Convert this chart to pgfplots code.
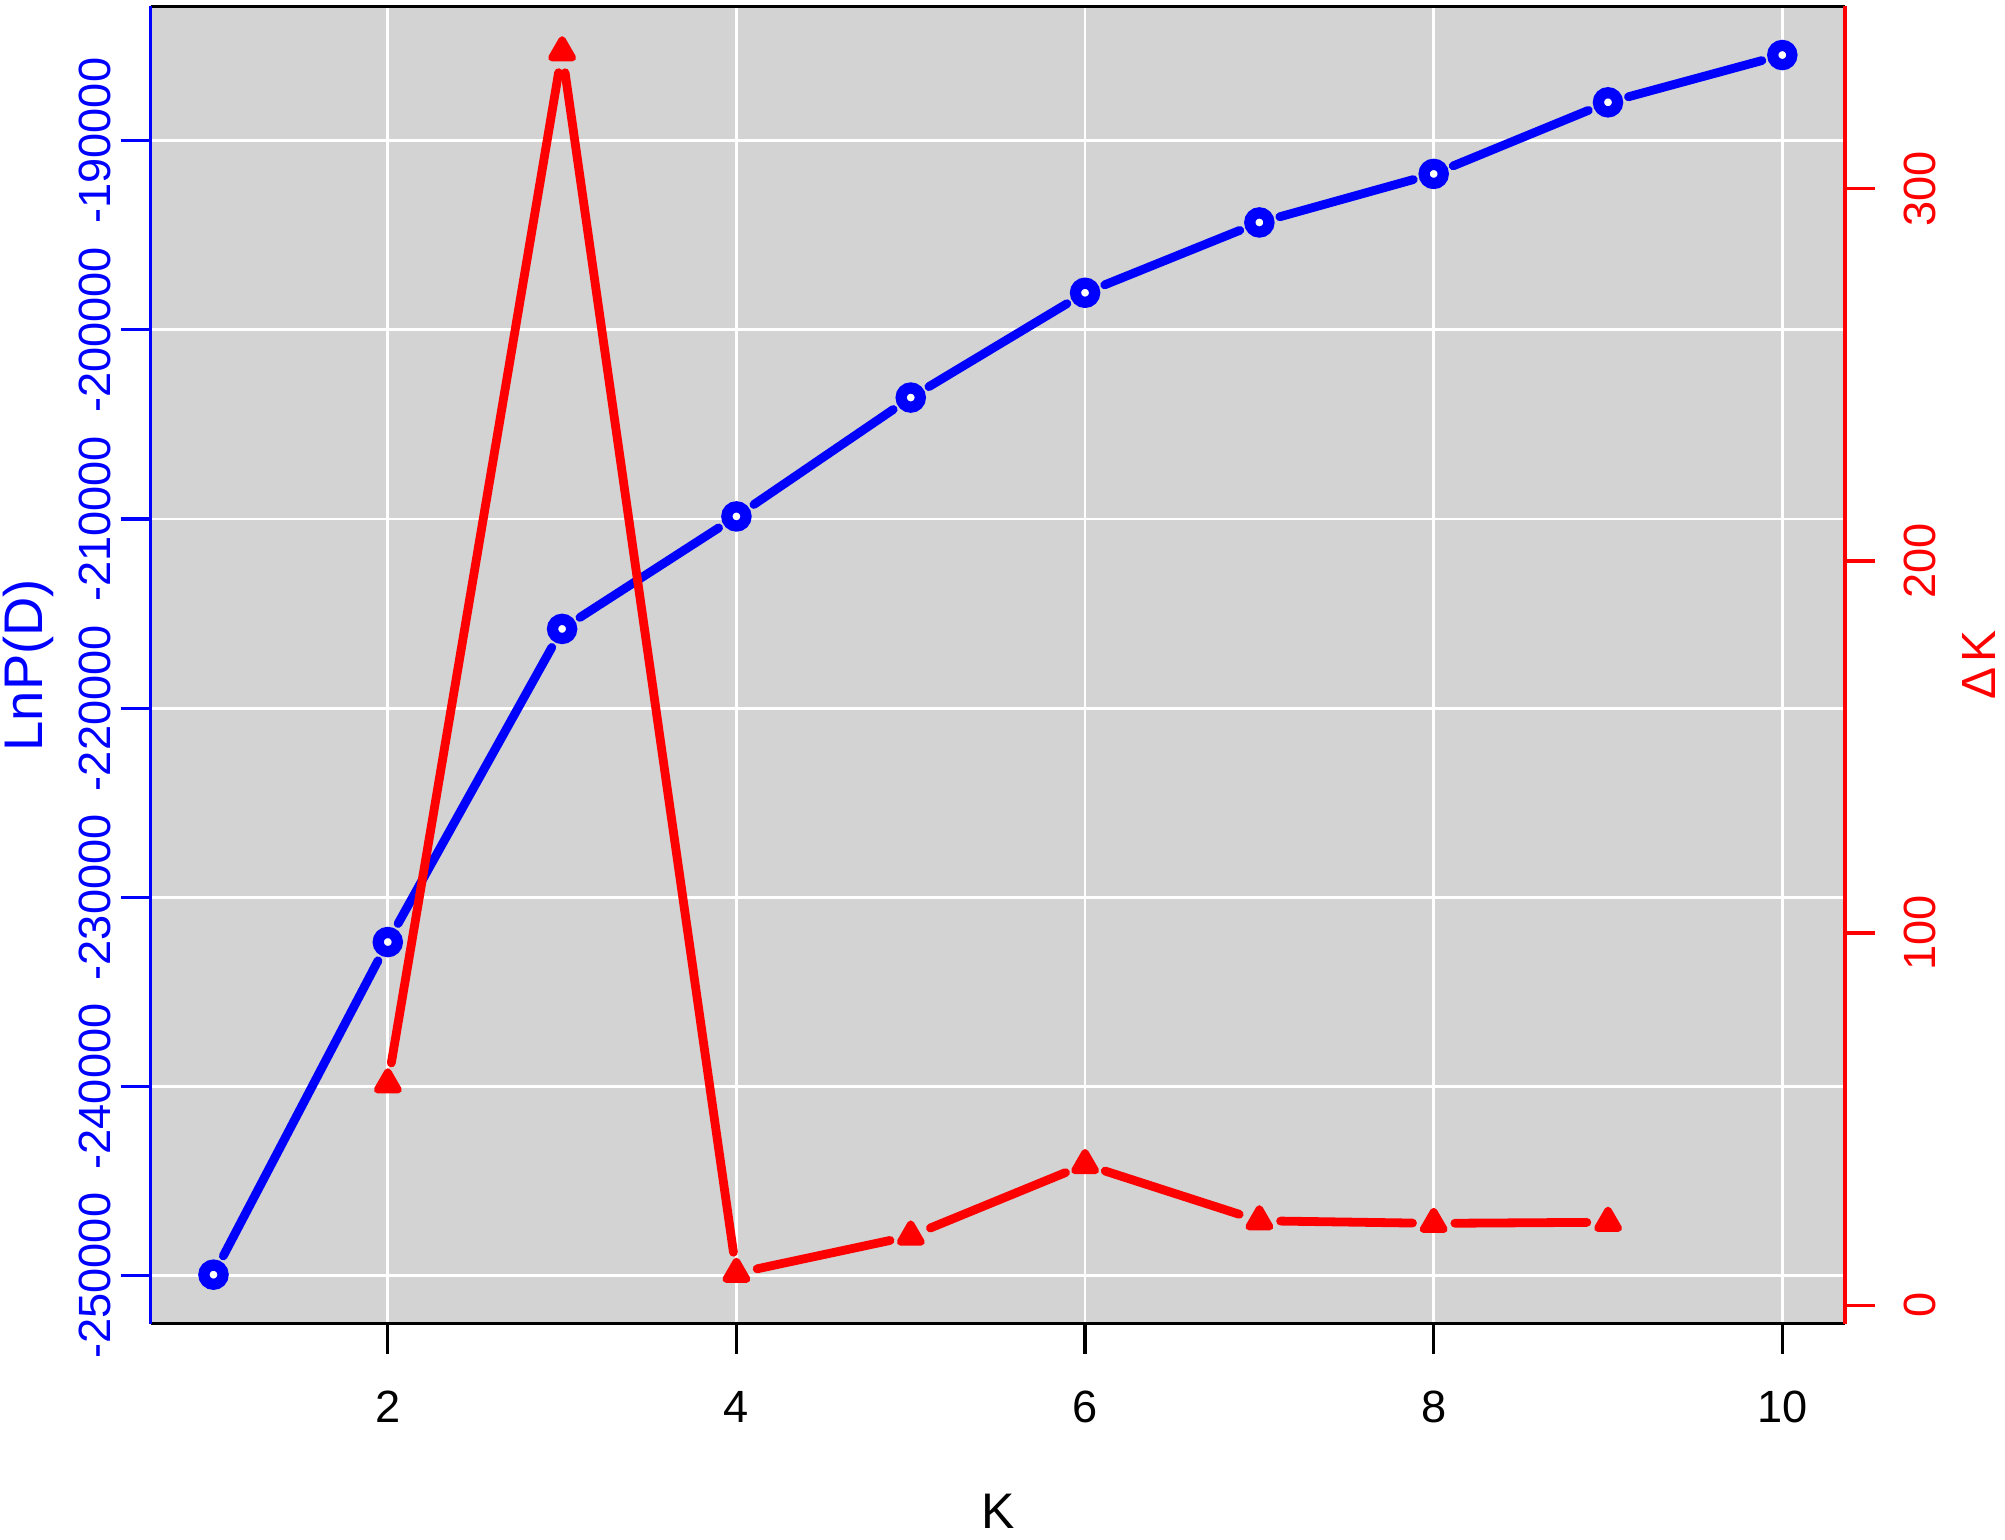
\documentclass[border=0pt]{standalone}
\usepackage{pgfplots}
\pgfplotsset{compat=1.18}
\usepackage{pgfplotstable}
\usepackage{fontspec}
\setmainfont{Liberation Sans}
\definecolor{rgrey}{RGB}{211,211,211}

% LnP(D) per K
\pgfplotstableread{
K L
1 -249950
2 -232365
3 -215811
4 -209865
5 -203581
6 -198041
7 -194324
8 -191757
9 -187973
10 -185473
}\lnp

% Delta K per K
\pgfplotstableread{
K D
2 59.5
3 336.8
4 8.6
5 18.6
6 37.8
7 22.7
8 22.0
9 22.3
}\dk

\pgfplotsset{
  base/.style={
    scale only axis, width=423.75pt, height=329.5pt,
    xmin=0.64, xmax=10.36, clip=false,
    tick align=outside, major tick length=7.5pt,
    scaled ticks=false,
    tick label style={font=\fontsize{11.3}{13}\selectfont},
  },
  seg/.style={line width=2.2pt, line cap=round, shorten <=5.3pt, shorten >=5.3pt},
  % keep only rows #1 and #1+1 (one segment between two points)
  pick/.style={x filter/.append code={%
    \ifnum\coordindex<#1\relax\def\pgfmathresult{}\fi
    \ifnum\coordindex>\numexpr#1+1\relax\def\pgfmathresult{}\fi}},
}

\begin{document}
\begin{tikzpicture}
\begin{axis}[base, name=ax,
  ymin=-252550, ymax=-182900,
  axis background/.style={fill=rgrey},
  xtick={2,4,6,8,10}, xticklabels={2,4,6,8,10},
  ytick={-250000,-240000,-230000,-220000,-210000,-200000,-190000},
  yticklabels={-250000,-240000,-230000,-220000,-210000,-200000,-190000},
  grid=major, major grid style={white, line width=0.7pt},
  axis x line*=box, axis y line*=left,
  xtick pos=lower, ytick pos=left,
  x axis line style={black, line width=0.8pt},
  y axis line style={blue, line width=0.8pt},
  xtick style={black, line width=0.8pt},
  ytick style={blue, line width=0.8pt},
  xticklabel style={anchor=center, yshift=-13.3pt},
  yticklabel style={blue, rotate=90, anchor=center, yshift=6.5pt},
  every axis x label/.style={at={(rel axis cs:0.5,0)}, yshift=-46.8pt, anchor=center,
    font=\fontsize{12.5}{14}\selectfont},
  every axis y label/.style={at={(rel axis cs:0,0.5)}, xshift=-30.5pt, rotate=90, anchor=center, blue,
    font=\fontsize{13.6}{16}\selectfont},
  xlabel={K}, ylabel={LnP(D)},
]
\pgfplotsinvokeforeach{0,...,8}{
  \addplot[blue, seg, pick=#1] table[x=K, y=L] {\lnp};
}
\addplot[only marks, mark=*, mark size=2.4pt,
  mark options={draw=blue, fill=white, line width=2.8pt}] table[x=K, y=L] {\lnp};
\end{axis}

\begin{axis}[base,
  ymin=-5, ymax=349,
  axis x line=none, axis y line*=right,
  y axis line style={red, line width=0.8pt},
  ytick={0,100,200,300}, yticklabels={0,100,200,300},
  ytick style={red, line width=0.8pt},
  yticklabel style={red, rotate=90, anchor=center, yshift=-11.25pt},
  every axis y label/.style={at={(rel axis cs:1,0.5)}, xshift=33.6pt, rotate=90, anchor=center, red,
    font=\fontsize{12}{14}\selectfont},
  ylabel={Δ\kern1.2pt K},
]
\pgfplotsinvokeforeach{0,...,6}{
  \addplot[red, seg, pick=#1] table[x=K, y=D] {\dk};
}
\addplot[only marks, mark=triangle*, mark size=3.0pt,
  mark options={draw=red, fill=red, line width=1.8pt, line join=round}] table[x=K, y=D] {\dk};
\end{axis}

\pgfresetboundingbox
\path[use as bounding box] ([xshift=-37.7pt, yshift=-53.9pt]ax.south west) rectangle ([xshift=40pt, yshift=1.6pt]ax.north east);
\end{tikzpicture}
\end{document}
